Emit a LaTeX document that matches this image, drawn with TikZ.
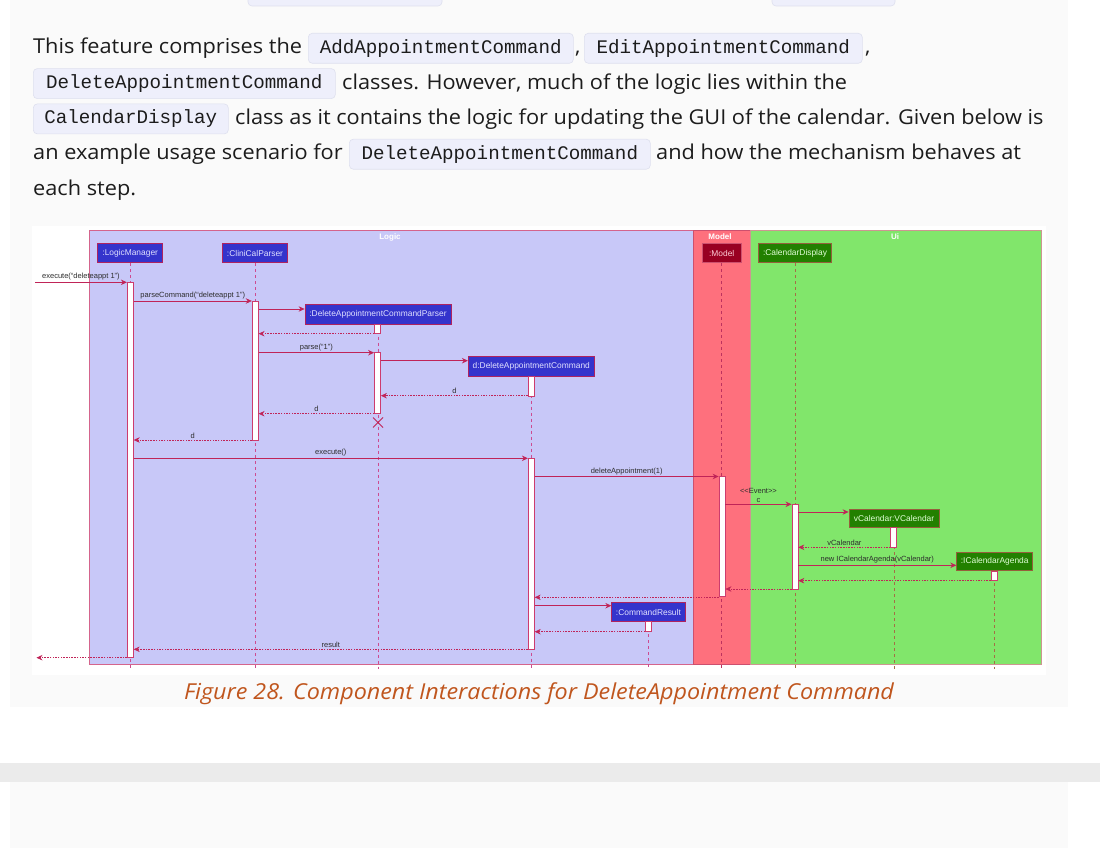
\documentclass[tikz,border=0pt]{standalone}
\usepackage{fontspec}
\setmainfont{Open Sans}[FakeStretch=1.06]
\newfontfamily\diag{Liberation Sans}
\newfontfamily\codefont{Liberation Mono}
\usetikzlibrary{arrows.meta,calc}
\definecolor{pagepanel}{RGB}{250,250,250}
\definecolor{band}{RGB}{235,235,235}
\definecolor{chipfill}{RGB}{238,239,251}
\definecolor{chipbd}{RGB}{222,224,238}
\definecolor{bodytx}{RGB}{28,28,28}
\definecolor{capc}{RGB}{192,86,30}
\definecolor{logicfill}{RGB}{200,200,248}
\definecolor{logicbd}{RGB}{212,100,140}
\definecolor{modelfill}{RGB}{254,112,125}
\definecolor{modelbd}{RGB}{205,80,110}
\definecolor{uifill}{RGB}{129,230,107}
\definecolor{uibd}{RGB}{205,150,145}
\definecolor{partblue}{RGB}{52,52,204}
\definecolor{partbd}{RGB}{175,35,95}
\definecolor{parttx}{RGB}{225,225,255}
\definecolor{partred}{RGB}{153,0,34}
\definecolor{partgreen}{RGB}{34,128,0}
\definecolor{greenbd}{RGB}{150,95,60}
\definecolor{msgc}{RGB}{192,36,88}
\definecolor{barbd}{RGB}{205,60,110}
\definecolor{lifel}{RGB}{205,75,145}
\definecolor{lifem}{RGB}{190,50,95}
\definecolor{lifeu}{RGB}{165,110,70}
\definecolor{lbltx}{RGB}{45,45,45}
\begin{document}
\begin{tikzpicture}[x=1pt,y=-1pt,
  part/.style={draw=partbd, fill=partblue, text=parttx, font=\diag\fontsize{8.4}{10}\selectfont, minimum height=19.4pt, inner sep=0pt, line width=0.8pt},
  actbar/.style={draw=barbd, fill=white, minimum width=6pt, inner sep=0pt, line width=0.8pt},
  msg/.style={draw=msgc, line width=0.8pt, -{Stealth[length=6pt,width=5.5pt]}},
  ret/.style={msg, dash pattern=on 1.5pt off 1.2pt, line width=0.6pt},
  lbl/.style={font=\diag\fontsize{7.5}{9}\selectfont, text=lbltx, inner sep=1.5pt},
  ftitle/.style={font=\diag\bfseries\fontsize{8}{9}\selectfont, text=white, inner sep=0pt},
  life/.style={dash pattern=on 3pt off 3pt, line width=0.9pt},
  chip/.style={fill=chipfill, draw=chipbd, rounded corners=4pt, line width=0.6pt, anchor=north west,
     font=\codefont\fontsize{19.2}{22}\selectfont, text=bodytx, text height=14pt, text depth=4pt, inner ysep=6pt, inner xsep=0pt},
  body/.style={font=\fontsize{20.5}{24}\selectfont, text=bodytx, inner sep=0pt, anchor=base west}]
\useasboundingbox (0,0) rectangle (1100,848);
\fill[white] (0,0) rectangle (1100,848);
\fill[pagepanel] (10,0) rectangle (1068,707);
\fill[band] (0,763) rectangle (1100,782);
\fill[pagepanel] (10,782) rectangle (1068,848);
% partial chips at the top edge
\begin{scope}
\clip (0,0) rectangle (1100,848);
\path[chip] (248,-24) rectangle (442,6);
\path[chip] (772,-24) rectangle (895,6);
\end{scope}
% paragraph
\node[body] (t1) at (33,54) {This feature comprises the};
\node[chip, minimum width=265pt] (c1) at (308,33) {AddAppointmentCommand};
\node[body] (k1) at (575,54) {,};
\node[chip, minimum width=278pt] (c2) at (584,33) {EditAppointmentCommand};
\node[body] (k2) at (865,54) {,};
\node[chip, minimum width=302pt] (c3) at (33,68.3) {DeleteAppointmentCommand};
\node[body] (t2) at (342,89.3) {classes. However, much of the logic lies within the};
\node[chip, minimum width=195pt] (c4) at (33,103.6) {CalendarDisplay};
\node[body] (t3) at (235,124.6) {class as it contains the logic for updating the GUI of the calendar. Given below is};
\node[body] (t4) at (33,159.9) {an example usage scenario for};
\node[chip, minimum width=301pt] (c5) at (349,138.9) {DeleteAppointmentCommand};
\node[body] (t5) at (656,159.9) {and how the mechanism behaves at};
\node[body] (t6) at (33,195.2) {each step.};
% diagram image background
\fill[white] (32,226) rectangle (1046,675);
% frames
\draw[fill=logicfill, draw=logicbd, line width=1pt] (89,230) rectangle (693,664);
\draw[fill=modelfill, draw=modelbd, line width=1pt] (693,230) rectangle (750,664);
\draw[fill=uifill, draw=uibd, line width=1pt] (750,230) rectangle (1041,664);
\node[ftitle] (fl) at (390,237) {Logic};
\node[ftitle] (fm) at (720,237) {Model};
\node[ftitle] (fu) at (895,237) {Ui};
% participants
\node[part, minimum width=65pt] (lm) at (130.2,253) {:LogicManager};
\node[part, minimum width=64.6pt] (cp) at (255,253) {:CliniCalParser};
\node[part, minimum width=146pt] (dacp) at (378,314.5) {:DeleteAppointmentCommandParser};
\node[part, minimum width=126pt] (dac) at (531.3,366.4) {d:DeleteAppointmentCommand};
\node[part, minimum width=38.7pt, fill=partred, text={rgb,255:red,255;green,205;blue,215}, draw=modelbd] (md) at (721.7,253) {:Model};
\node[part, minimum width=73.4pt, fill=partgreen, text={rgb,255:red,225;green,255;blue,215}, draw=greenbd] (cd) at (795,253) {:CalendarDisplay};
\node[part, minimum width=90pt, fill=partgreen, text={rgb,255:red,225;green,255;blue,215}, draw=greenbd, minimum height=18.7pt] (vc) at (894,518.3) {vCalendar:VCalendar};
\node[part, minimum width=76pt, fill=partgreen, text={rgb,255:red,225;green,255;blue,215}, draw=greenbd, minimum height=18.4pt] (ica) at (994.7,561.5) {:ICalendarAgenda};
\node[part, minimum width=73.3pt, minimum height=19.4pt] (cr) at (648.4,612) {:CommandResult};
% lifelines
\draw[life, draw=lifel] (lm.south) -- (lm.south |- 0,669);
\draw[life, draw=lifel] (cp.south) -- (cp.south |- 0,669);
\draw[life, draw=lifel] (dacp.south) -- (dacp.south |- 0,669);
\draw[life, draw=lifel] (dac.south) -- (dac.south |- 0,669);
\draw[life, draw=lifel] (cr.south) -- (cr.south |- 0,669);
\draw[life, draw=lifem] (md.south) -- (md.south |- 0,669);
\draw[life, draw=lifeu] (cd.south) -- (cd.south |- 0,669);
\draw[life, draw=lifeu] (vc.south) -- (vc.south |- 0,669);
\draw[life, draw=lifeu] (ica.south) -- (ica.south |- 0,669);
% activation bars
\node[actbar, minimum height=374.7pt] (lmA) at (130.3,469.65) {};
\node[actbar, minimum height=139pt] (cpA) at (255.2,370.5) {};
\node[actbar, minimum height=9pt] (dpA) at (377.5,328.7) {};
\node[actbar, minimum height=61pt] (dpB) at (377.5,383.2) {};
\node[actbar, minimum height=20pt] (dcA) at (531.3,386) {};
\node[actbar, minimum height=191pt] (dcB) at (531.3,553.8) {};
\node[actbar, minimum height=120pt] (mdA) at (722,536.7) {};
\node[actbar, minimum height=84.7pt] (cdA) at (794.9,546.65) {};
\node[actbar, minimum height=19.6pt] (vcA) at (893.8,537.5) {};
\node[actbar, minimum height=9.7pt] (icA) at (993.9,575.85) {};
\node[actbar, minimum height=10pt] (crA) at (648.5,626.7) {};
% destroy mark
\coordinate (xm) at (378,422.5);
\draw[msgc, line width=1pt] ($(xm)+(-5,-5)$) -- ($(xm)+(5,5)$) ($(xm)+(-5,5)$) -- ($(xm)+(5,-5)$);
% messages
\coordinate (inL) at (35,282.3);
\coordinate (outL) at (36.5,657.7);
\draw[msg] (inL) -- (lmA.west |- 0,282.3) node[lbl, midway, above] {execute(“deleteappt 1”)};
\draw[msg] (lmA.east |- 0,301) -- (cpA.west |- 0,301) node[lbl, midway, above] {parseCommand(“deleteappt 1”)};
\draw[msg] (cpA.east |- 0,309) -- (dacp.west |- 0,309);
\draw[ret] (dpA.west |- 0,333.7) -- (cpA.east |- 0,333.7);
\draw[msg] (cpA.east |- 0,352.7) -- (dpB.west |- 0,352.7) node[lbl, midway, above] {parse(“1”)};
\draw[msg] (dpB.east |- 0,360.7) -- (dac.west |- 0,360.7);
\draw[ret] (dcA.west |- 0,395.7) -- (dpB.east |- 0,395.7) node[lbl, midway, above] {d};
\draw[ret] (dpB.west |- 0,413.7) -- (cpA.east |- 0,413.7) node[lbl, midway, above] {d};
\draw[ret] (cpA.west |- 0,440) -- (lmA.east |- 0,440) node[lbl, midway, above] {d};
\draw[msg] (lmA.east |- 0,458.3) -- (dcB.west |- 0,458.3) node[lbl, midway, above] {execute()};
\draw[msg] (dcB.east |- 0,476.5) -- (mdA.west |- 0,476.5) node[lbl, midway, above] {deleteAppointment(1)};
\draw[msg] (mdA.east |- 0,504.3) -- (cdA.west |- 0,504.3) node[lbl, midway, above, align=center] {<<Event>>\\c};
\draw[msg] (cdA.east |- 0,512) -- (vc.west |- 0,512);
\draw[ret] (vcA.west |- 0,547.3) -- (cdA.east |- 0,547.3) node[lbl, midway, above] {vCalendar};
\draw[msg] (cdA.east |- 0,565.3) -- (ica.west |- 0,565.3) node[lbl, midway, above] {new ICalendarAgenda(vCalendar)};
\draw[ret] (icA.west |- 0,580.7) -- (cdA.east |- 0,580.7);
\draw[ret] (cdA.west |- 0,589) -- (mdA.east |- 0,589);
\draw[ret] (mdA.west |- 0,597.3) -- (dcB.east |- 0,597.3);
\draw[msg] (dcB.east |- 0,605.7) -- (cr.west |- 0,605.7);
\draw[ret] (crA.west |- 0,631.7) -- (dcB.east |- 0,631.7);
\draw[ret] (dcB.west |- 0,649.3) -- (lmA.east |- 0,649.3) node[lbl, midway, above] {result};
\draw[ret] (lmA.west |- 0,657.7) -- (outL);
% caption
\node[font=\itshape\fontsize{22}{25}\selectfont, text=capc, inner sep=0pt] (cap) at (539,694) {Figure 28. Component Interactions for DeleteAppointment Command};
\end{tikzpicture}
\end{document}
